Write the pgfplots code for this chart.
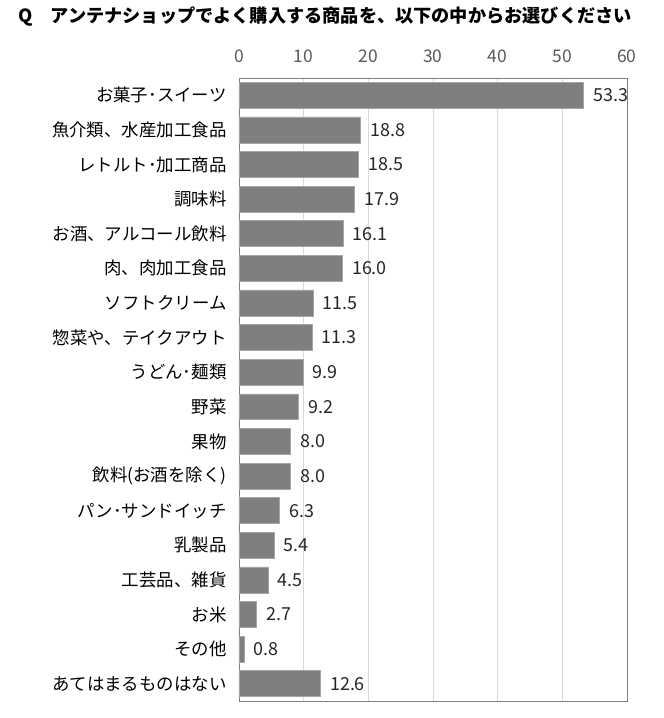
\documentclass[border=0pt]{standalone}
\usepackage{fontspec}
\setmainfont{Noto Sans CJK JP}
\usepackage{pgfplots}
\pgfplotsset{compat=1.18}
\definecolor{barc}{HTML}{7F7F7F}
\definecolor{gridc}{HTML}{D9D9D9}
\definecolor{framec}{HTML}{7F7F7F}
\definecolor{tickc}{HTML}{595959}
\definecolor{valc}{HTML}{262626}
\begin{document}
\begin{tikzpicture}
\path[use as bounding box] (-239bp,-17bp) rectangle (425bp,701bp);
\node[anchor=west, inner sep=0pt, font=\bfseries\fontsize{18.25}{20}\selectfont] at (-221bp,684bp) {Q　アンテナショップでよく購入する商品を、以下の中からお選びください};
\begin{axis}[
  at={(0,0)}, anchor=south west,
  scale only axis, width=388bp, height=623bp,
  xbar, bar width=0.75,
  xmin=0, xmax=60, ymin=-0.5, ymax=17.5,
  y dir=reverse,
  xtick={0,10,...,60},
  ytick={0,...,17},
  yticklabels={お菓子･スイーツ,魚介類、水産加工食品,レトルト･加工商品,調味料,お酒、アルコール飲料,肉、肉加工食品,ソフトクリーム,惣菜や、テイクアウト,うどん･麺類,野菜,果物,飲料(お酒を除く),パン･サンドイッチ,乳製品,工芸品、雑貨,お米,その他,あてはまるものはない},
  xticklabel pos=top,
  major tick length=0pt,
  xmajorgrids,
  grid style={color=gridc, line width=0.9bp},
  axis line style={color=framec, line width=0.9bp},
  /pgf/number format/assume math mode=true,
  xticklabel style={font=\fontsize{17.5}{19}\selectfont, text=tickc, yshift=12bp},
  yticklabel style={font=\fontsize{17.5}{20}\selectfont, text=black, xshift=-9bp},
  nodes near coords={\pgfmathprintnumber[fixed,fixed zerofill,precision=1]{\pgfplotspointmeta}},
  nodes near coords style={font=\fontsize{18}{20}\selectfont, text=valc, xshift=6bp},
  point meta=x,
]
\addplot[fill=barc, draw=barc!70!white, line width=0.6bp] coordinates {
(53.3,0) (18.8,1) (18.5,2) (17.9,3) (16.1,4) (16.0,5) (11.5,6) (11.3,7) (9.9,8) (9.2,9) (8.0,10) (8.0,11) (6.3,12) (5.4,13) (4.5,14) (2.7,15) (0.8,16) (12.6,17)
};
\end{axis}
\end{tikzpicture}
\end{document}
